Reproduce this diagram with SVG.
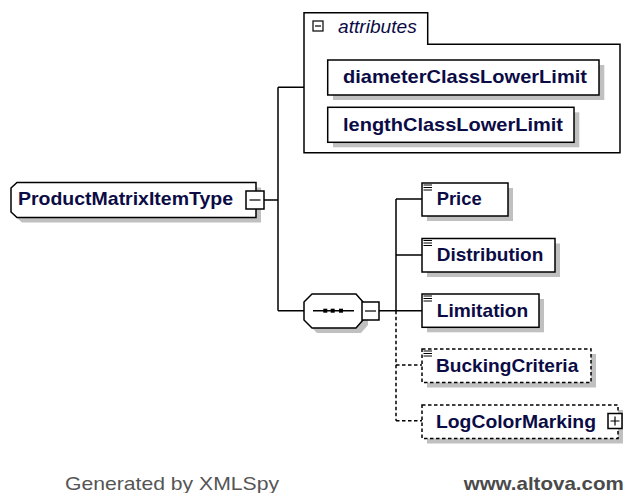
<svg xmlns="http://www.w3.org/2000/svg" width="627" height="493" viewBox="0 0 627 493">
  <style>
    .box { fill: #ffffff; stroke: #000000; stroke-width: 1.5; }
    .opt { fill: #ffffff; stroke: #000000; stroke-width: 1.5; stroke-dasharray: 3.5 2.5; }
    .shadow { fill: #c0c0c0; stroke: none; }
    .frame { fill: none; stroke: #000000; stroke-width: 1.5; }
    .line { fill: none; stroke: #000000; stroke-width: 1.5; }
    .dash { fill: none; stroke: #000000; stroke-width: 1.5; stroke-dasharray: 3.5 2.5; }
    .icon { fill: none; stroke: #000000; stroke-width: 1.2; }
    .name { font-family: "Liberation Sans", Arial, sans-serif; font-size: 19px; font-weight: bold; fill: #0b0b45; }
    .label { font-family: "Liberation Sans", Arial, sans-serif; font-size: 18px; font-style: italic; fill: #0b0b45; }
    .foot { font-family: "Liberation Sans", Arial, sans-serif; font-size: 18.5px; fill: #555555; }
  </style>

  <!-- connectors -->
  <g id="connectors">
    <path class="line" d="M264,200 H278 M278,87.3 V310.7 M278,87.3 H304 M278,310.7 H304"/>
    <path class="line" d="M379,310.7 H396 M396,199 V310.7 M396,199 H422 M396,255 H422 M396,310.7 H422"/>
    <path class="dash" d="M396,310.7 V420.7 M396,365 H422 M396,420.7 H422"/>
  </g>

  <!-- root complex type -->
  <g id="ProductMatrixItemType">
    <polygon class="shadow" points="16,193 22,187.5 261,187.5 261,222.5 22,222.5 16,217"/>
    <polygon class="box" points="11,188 17,182.5 256,182.5 256,217.5 17,217.5 11,212"/>
    <text class="name" x="18" y="205" textLength="215" lengthAdjust="spacingAndGlyphs">ProductMatrixItemType</text>
    <rect class="box" x="246" y="191" width="18" height="18"/>
    <line class="icon" x1="249.5" y1="200" x2="260.5" y2="200"/>
  </g>

  <!-- attribute group -->
  <g id="attributes">
    <path class="frame" d="M304,152.7 V12.7 H427.7 V44.3 H620 V152.7 Z"/>
    <rect class="box" x="313" y="21" width="10" height="10" style="stroke-width:1.2"/>
    <line class="icon" x1="315" y1="26" x2="321" y2="26"/>
    <text class="label" x="338" y="33" textLength="78.7" lengthAdjust="spacingAndGlyphs">attributes</text>
  </g>

  <g id="diameterClassLowerLimit">
    <rect class="shadow" x="333" y="65" width="271.3" height="35"/>
    <rect class="box" x="327.7" y="60" width="271.3" height="35"/>
    <text class="name" x="343" y="83" textLength="244" lengthAdjust="spacingAndGlyphs">diameterClassLowerLimit</text>
  </g>

  <g id="lengthClassLowerLimit">
    <rect class="shadow" x="333" y="112.3" width="246.3" height="35"/>
    <rect class="box" x="327.7" y="107.3" width="246.3" height="35"/>
    <text class="name" x="343" y="130.7" textLength="220" lengthAdjust="spacingAndGlyphs">lengthClassLowerLimit</text>
  </g>

  <!-- sequence compositor -->
  <g id="sequence">
    <polygon class="shadow" points="309,307 317,299 361,299 368,307 368,325 361,333 317,333 309,325"/>
    <polygon class="box" points="304,302 312,294 356,294 363,302 363,320 356,328 312,328 304,320"/>
    <line class="line" x1="313" y1="310.7" x2="354" y2="310.7"/>
    <rect x="323.3" y="308.7" width="4" height="4" fill="#000000"/>
    <rect x="330.7" y="308.7" width="4" height="4" fill="#000000"/>
    <rect x="339" y="308.7" width="4" height="4" fill="#000000"/>
    <rect class="box" x="362" y="302" width="17" height="18"/>
    <line class="icon" x1="365" y1="311" x2="376" y2="311"/>
  </g>

  <!-- child elements -->
  <g id="Price">
    <rect class="shadow" x="427" y="188" width="86" height="33"/>
    <rect class="box" x="422" y="183" width="86" height="33"/>
    <path class="icon" d="M423.5,185 H432 M423.5,187.5 H432 M423.5,190 H432"/>
    <text class="name" x="436.7" y="205" textLength="45" lengthAdjust="spacingAndGlyphs">Price</text>
  </g>

  <g id="Distribution">
    <rect class="shadow" x="427" y="243.5" width="133" height="33.5"/>
    <rect class="box" x="422" y="238.5" width="133" height="33.5"/>
    <path class="icon" d="M423.5,240.5 H432 M423.5,243 H432 M423.5,245.5 H432"/>
    <text class="name" x="436.7" y="261" textLength="106.6" lengthAdjust="spacingAndGlyphs">Distribution</text>
  </g>

  <g id="Limitation">
    <rect class="shadow" x="427" y="299" width="117" height="33.3"/>
    <rect class="box" x="422" y="294" width="117" height="33.3"/>
    <path class="icon" d="M423.5,296 H432 M423.5,298.5 H432 M423.5,301 H432"/>
    <text class="name" x="436.7" y="316.7" textLength="91.6" lengthAdjust="spacingAndGlyphs">Limitation</text>
  </g>

  <g id="BuckingCriteria">
    <rect class="shadow" x="427" y="354" width="169" height="33.5"/>
    <rect class="opt" x="422" y="349" width="169" height="33.5"/>
    <path class="icon" d="M423.5,351 H432 M423.5,353.5 H432 M423.5,356 H432"/>
    <text class="name" x="436" y="371.7" textLength="142.3" lengthAdjust="spacingAndGlyphs">BuckingCriteria</text>
  </g>

  <g id="LogColorMarking">
    <rect class="shadow" x="427" y="410" width="196" height="33.5"/>
    <rect class="opt" x="422" y="405" width="196" height="33.5"/>
    <text class="name" x="436" y="428.3" textLength="160" lengthAdjust="spacingAndGlyphs">LogColorMarking</text>
    <rect class="box" x="608" y="413.5" width="14" height="15"/>
    <path class="icon" d="M610.5,421 H619.5 M615,416.5 V425.5"/>
  </g>

  <!-- footer -->
  <text class="foot" x="65" y="490" textLength="214" lengthAdjust="spacingAndGlyphs">Generated by XMLSpy</text>
  <text class="foot" x="463.7" y="490" textLength="160" lengthAdjust="spacingAndGlyphs" style="font-weight:bold;fill:#4a4a4a">www.altova.com</text>
</svg>
